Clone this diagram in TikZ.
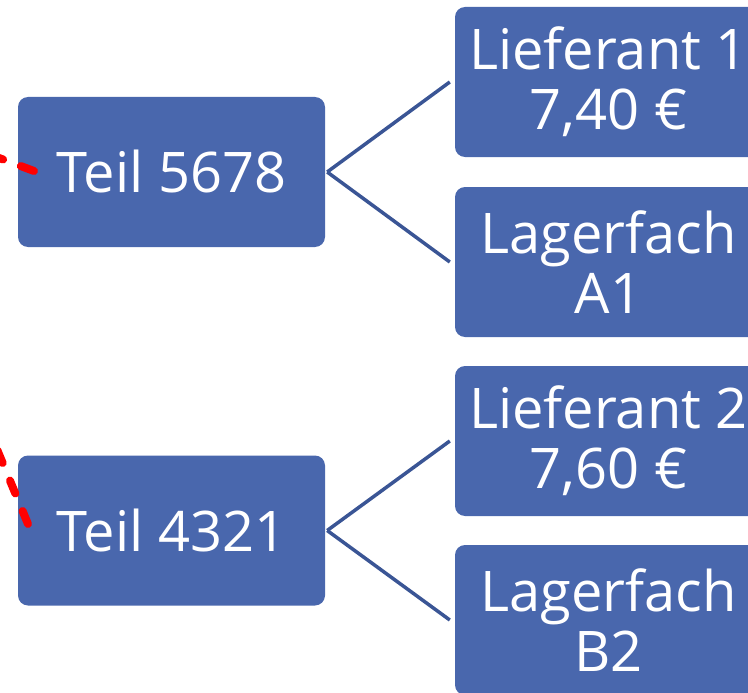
\documentclass[tikz,border=0pt]{standalone}
\usepackage{fontspec}
\setmainfont{Open Sans}
\definecolor{boxblue}{HTML}{4967AD}
\definecolor{linkblue}{HTML}{3A5595}
\definecolor{redline}{HTML}{FF0000}
\tikzset{
  partbox/.style={fill=boxblue, rounded corners=10pt, minimum width=307pt, minimum height=150pt,
    inner sep=0pt, align=center, text=white, font=\fontsize{56}{60}\selectfont},
  link/.style={draw=linkblue, line width=3.5pt},
  redlink/.style={draw=redline, line width=8pt, line cap=round, dash pattern=on 14pt off 19pt}
}
\begin{document}
\begin{tikzpicture}[x=1pt,y=-1pt]
\useasboundingbox (0,0) rectangle (748,693);
\clip (0,0) rectangle (748,693);
\node[partbox] (teil1) at (171.5,172) {Teil 5678};
\node[partbox] (teil2) at (171.5,530.5) {Teil 4321};
\node[partbox] (lief1) at (608.5,82) {Lieferant 1\\7,40 €};
\node[partbox] (lag1) at (608.5,262) {Lagerfach\\A1};
\node[partbox] (lief2) at (608.5,441) {Lieferant 2\\7,60 €};
\node[partbox] (lag2) at (608.5,620) {Lagerfach\\B2};
\draw[link] ([xshift=2pt]teil1.east) -- ([xshift=-5pt]lief1.west);
\draw[link] ([xshift=2pt]teil1.east) -- ([xshift=-5pt]lag1.west);
\draw[link] ([xshift=2pt]teil2.east) -- ([xshift=-5pt]lief2.west);
\draw[link] ([xshift=2pt]teil2.east) -- ([xshift=-5pt]lag2.west);
\coordinate (r1) at (34,171);
\coordinate (o1) at (-60,136);
\coordinate (r2) at (28,524);
\coordinate (o2) at (-65,300);
\draw[redlink] (r1) -- (o1);
\draw[redlink] (r2) -- (o2);
\end{tikzpicture}
\end{document}
